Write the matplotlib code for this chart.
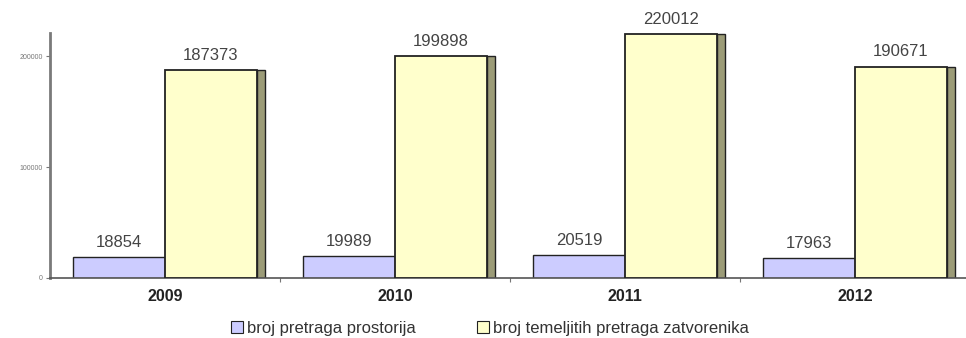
import matplotlib
matplotlib.use("Agg")
import matplotlib.pyplot as plt
import numpy as np
from matplotlib.patches import Patch

plt.rcParams["font.family"] = ["Liberation Sans", "DejaVu Sans"]

years = ["2009", "2010", "2011", "2012"]
prostorija = [18854, 19989, 20519, 17963]
zatvorenika = [187373, 199898, 220012, 190671]
series_names = ["broj pretraga prostorija", "broj temeljitih pretraga zatvorenika"]
y_ticks = [0, 100000, 200000]

W, H = 966, 338
fig = plt.figure(figsize=(W / 100, H / 100), dpi=100)
ax = fig.add_axes([50 / W, (H - 278) / H, 916 / W, 245 / H])

x = np.arange(len(years))
bw = 0.4
side = 0.035

blue_fill = "#ccccff"
yellow_fill = "#ffffcc"
side_fill = "#9c9c78"
edge = "#222222"

ax.bar(x - bw / 2, prostorija, width=bw, color=blue_fill, edgecolor=edge, linewidth=1.0, zorder=2)
ax.bar(x + bw + side / 2, zatvorenika, width=side, color=side_fill, edgecolor=edge, linewidth=1.0, zorder=2)
ax.bar(x + bw / 2, zatvorenika, width=bw, color=yellow_fill, edgecolor=edge, linewidth=1.3, zorder=3)

for xi, v in zip(x, prostorija):
    ax.text(xi - bw / 2, v + 6500, str(v), ha="center", va="bottom", fontsize=12, color="#444444")
for xi, v in zip(x, zatvorenika):
    ax.text(xi + bw / 2, v + 6500, str(v), ha="center", va="bottom", fontsize=12, color="#444444")

ax.set_xlim(-0.5, -0.5 + 916 / 230)
ax.set_ylim(0, 221000)

for s in ["top", "right"]:
    ax.spines[s].set_visible(False)
ax.spines["left"].set_color("#7a7a7a")
ax.spines["left"].set_linewidth(2.0)
ax.spines["bottom"].set_color("#555555")
ax.spines["bottom"].set_linewidth(1.2)

ax.set_yticks(y_ticks)
ax.set_yticklabels([str(t) for t in y_ticks], fontsize=5, color="#777777")
ax.tick_params(axis="y", length=3, width=0.8, color="#777777", pad=2)

ax.set_xticks(x)
ax.set_xticklabels(years, fontsize=11.5, fontweight="bold", color="#222222")
ax.tick_params(axis="x", length=0, pad=8)
ax.set_xticks(x[:-1] + 0.5, minor=True)
ax.tick_params(axis="x", which="minor", length=3, width=0.8, color="#777777")

handles = [
    Patch(facecolor=blue_fill, edgecolor=edge, linewidth=0.8),
    Patch(facecolor=yellow_fill, edgecolor=edge, linewidth=0.8),
]
legend_left = [231, 477]
for h, name, lx in zip(handles, series_names, legend_left):
    fig.legend([h], [name], loc="center left", bbox_to_anchor=(lx / W, (H - 328) / H),
               frameon=False, fontsize=12, handlelength=0.7, handleheight=0.7,
               handletextpad=0.25, borderpad=0, borderaxespad=0, labelcolor="#333333")

fig.savefig("out.png", dpi=100)
